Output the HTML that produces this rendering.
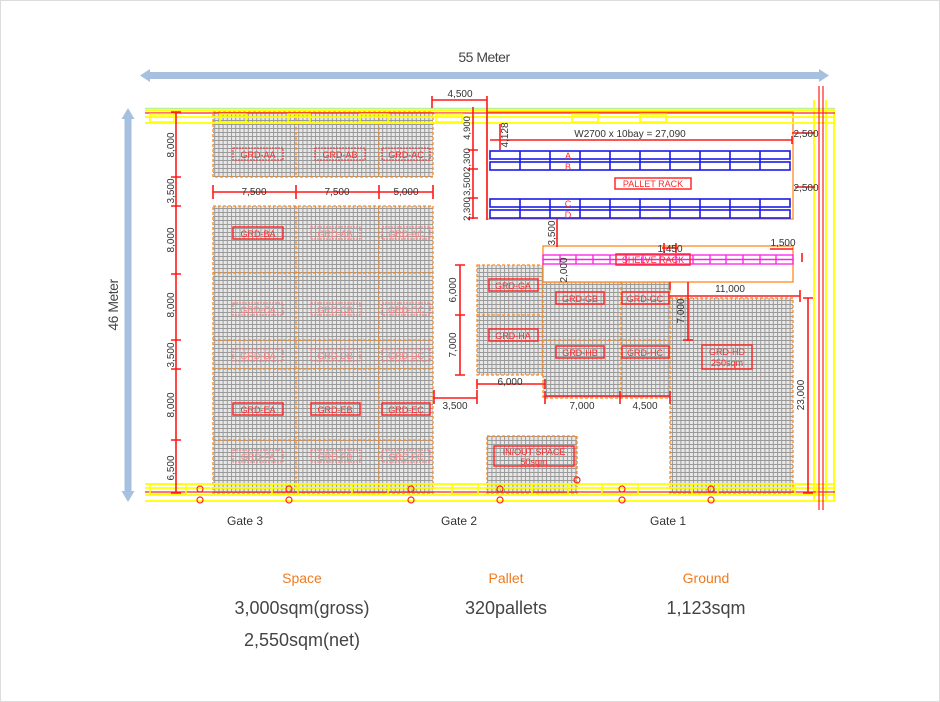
<!DOCTYPE html>
<html><head><meta charset="utf-8"><style>
html,body{margin:0;padding:0;background:#fff}
svg{display:block}
</style></head><body>
<svg width="940" height="702" viewBox="0 0 940 702" xmlns="http://www.w3.org/2000/svg" font-family="'Liberation Sans', sans-serif">
<defs>
<pattern id="g" width="4.2" height="4" patternUnits="userSpaceOnUse">
<rect width="4.2" height="4" fill="#e8e8e8"/>
<path d="M0 0.5H4.2M0.5 0V4" stroke="#9a9a9a" stroke-width="1"/>
</pattern>
</defs>
<rect x="0.5" y="0.5" width="939" height="701" fill="#fff" stroke="#dcdcdc"/>

<!-- blue arrows -->
<g fill="#a7c0e0">
<rect x="148" y="72" width="672" height="7"/>
<polygon points="140,75.5 150,69 150,82"/>
<polygon points="829,75.5 819,69 819,82"/>
<rect x="124.5" y="117" width="7" height="376"/>
<polygon points="128,108 121.5,119 134.5,119"/>
<polygon points="128,502 121.5,491 134.5,491"/>
</g>
<text x="484" y="62" font-size="14" fill="#444" text-anchor="middle" letter-spacing="-0.5">55 Meter</text>
<text transform="translate(118,305) rotate(-90)" font-size="14" fill="#444" text-anchor="middle" letter-spacing="-0.5">46 Meter</text>

<!-- grid blocks -->
<g fill="url(#g)" stroke="#ff8a1c" stroke-width="1.3" stroke-dasharray="3,2">
<rect x="213" y="112" width="220" height="65"/>
<rect x="213" y="206" width="220" height="287"/>
<rect x="477" y="265" width="66" height="110"/>
<rect x="543" y="282" width="127" height="116"/>
<rect x="670" y="298" width="123" height="195"/>
<rect x="487" y="436" width="90" height="57"/>
</g>
<g stroke="#ff8a1c" stroke-width="1.3" stroke-dasharray="3,2" fill="none">
<path d="M296 112V177M379 112V177M296 206V493M379 206V493M213 273H433M213 340H433M213 369H433M213 440H433M477 315H543M621 282V398M543 340H670"/>
</g>

<!-- racks area -->
<rect x="487" y="112" width="306" height="107" fill="#fff" stroke="#ff8a1c" stroke-width="1.3"/>
<rect x="543" y="246" width="250" height="36" fill="#fff" stroke="#ff8a1c" stroke-width="1.3"/>
<g stroke="#1a1ae6" stroke-width="1.6" fill="none">
<rect x="490" y="151" width="300" height="8"/><rect x="490" y="162" width="300" height="8"/>
<rect x="490" y="199" width="300" height="8"/><rect x="490" y="210" width="300" height="8"/>
<path d="M520 151V170M550 151V170M580 151V170M610 151V170M640 151V170M670 151V170M700 151V170M730 151V170M760 151V170M520 199V218M550 199V218M580 199V218M610 199V218M640 199V218M670 199V218M700 199V218M730 199V218M760 199V218"/>
</g>
<g stroke="#ff1ee6" stroke-width="1.3" fill="none">
<rect x="543" y="255" width="250" height="4.5"/><rect x="543" y="259.5" width="250" height="4.5"/>
<path d="M560 255V264M576 255V264M593 255V264M610 255V264M626 255V264M643 255V264M660 255V264M676 255V264M693 255V264M710 255V264M726 255V264M743 255V264M760 255V264M776 255V264"/>
</g>

<!-- walls -->
<path d="M145 108.5H835" stroke="#b8f0a0" stroke-width="1.5"/>
<g stroke="#ffff00" fill="none" stroke-width="1.8">
<path d="M145 110.5H835M145 117H835M145 123H835M145 484H835M145 488H835M145 495H835M145 501H835"/>
<path d="M814 100V500M826 100V500M834 110V500"/>
</g>
<g stroke="#ff2020" fill="none" stroke-width="1.2">
<path d="M145 113H835M145 492H835M819 86V510M823 86V510"/>
</g>
<g fill="none" stroke="#ffff00" stroke-width="1.5">
<rect x="150" y="114" width="24" height="8"/><rect x="220" y="114" width="26" height="8"/><rect x="288" y="114" width="22" height="8"/><rect x="360" y="114" width="28" height="8"/><rect x="436" y="114" width="26" height="8"/><rect x="572" y="114" width="26" height="8"/><rect x="640" y="114" width="26" height="8"/>
<rect x="150" y="484" width="36" height="10"/><rect x="272" y="484" width="26" height="10"/><rect x="352" y="484" width="36" height="10"/><rect x="452" y="484" width="26" height="10"/><rect x="532" y="484" width="36" height="10"/><rect x="602" y="484" width="36" height="10"/><rect x="692" y="484" width="26" height="10"/><rect x="795" y="484" width="22" height="10"/>
</g>
<g stroke="#ff2020" fill="none" stroke-width="1.2">
<circle cx="200" cy="500" r="3"/><circle cx="289" cy="500" r="3"/><circle cx="411" cy="500" r="3"/><circle cx="500" cy="500" r="3"/><circle cx="622" cy="500" r="3"/><circle cx="711" cy="500" r="3"/>
<circle cx="200" cy="489" r="3"/><circle cx="289" cy="489" r="3"/><circle cx="411" cy="489" r="3"/><circle cx="500" cy="489" r="3"/><circle cx="622" cy="489" r="3"/><circle cx="711" cy="489" r="3"/><circle cx="577" cy="480" r="3"/>
</g>

<!-- dimension lines -->
<g stroke="#ff1a1a" stroke-width="1.6" fill="none">
<path d="M176 112V493M171 112H181M171 177H181M171 206H181M171 274H181M171 340H181M171 369H181M171 440H181M171 493H181"/>
<path d="M213 192H433M213 185V199M296 185V199M379 185V199M433 185V199"/>
<path d="M432 100H487M432 96V108M487 96V220"/>
<path d="M473 107V219M468 150H478M468 169H478M468 198H478M468 218H478"/>
<path d="M500 124V150M490 140H792M792 136V144"/>
<path d="M792 133H815M795 187H815"/>
<path d="M557 219V247"/>
<path d="M662 248H678M664 243V253M676 243V253M770 249H793M802 253V262"/>
<path d="M460 265V375M455 265H465M455 315H465M455 375H465"/>
<path d="M688 282V341M670 282V290M683 340H693"/>
<path d="M670 296H800M800 290V302"/>
<path d="M808 298V493M803 298H813M803 493H813"/>
<path d="M477 384H545M477 379V389M545 379V389"/>
<path d="M434 398H477M434 390V404M477 390V404"/>
<path d="M545 396H670M545 391V404M620 391V404M670 391V404"/>
</g>

<!-- dimension text -->
<g font-size="10" fill="#333" text-anchor="middle">
<text x="254" y="195">7,500</text><text x="337" y="195">7,500</text><text x="406" y="195">5,000</text>
<text x="460" y="97">4,500</text>
<text x="630" y="137">W2700 x 10bay = 27,090</text>
<text x="806" y="137">2,500</text><text x="806" y="191">2,500</text>
<text x="670" y="252">1,450</text><text x="783" y="246">1,500</text>
<text x="730" y="292">11,000</text>
<text x="510" y="385">6,000</text><text x="455" y="409">3,500</text>
<text x="582" y="409">7,000</text><text x="645" y="409">4,500</text>
</g>
<g font-size="10" fill="#333" text-anchor="middle">
<text transform="translate(174,145) rotate(-90)">8,000</text>
<text transform="translate(174,191) rotate(-90)">3,500</text>
<text transform="translate(174,240) rotate(-90)">8,000</text>
<text transform="translate(174,305) rotate(-90)">8,000</text>
<text transform="translate(174,355) rotate(-90)">3,500</text>
<text transform="translate(174,405) rotate(-90)">8,000</text>
<text transform="translate(174,468) rotate(-90)">6,500</text>
<text transform="translate(470,128) rotate(-90)" font-size="9.5">4,900</text>
<text transform="translate(470,160) rotate(-90)" font-size="9.5">2,300</text>
<text transform="translate(470,184) rotate(-90)" font-size="9.5">3,500</text>
<text transform="translate(470,209) rotate(-90)" font-size="9.5">2,300</text>
<text transform="translate(508,135) rotate(-90)">4,128</text>
<text transform="translate(555,233) rotate(-90)">3,500</text>
<text transform="translate(567,270) rotate(-90)">2,000</text>
<text transform="translate(456,290) rotate(-90)">6,000</text>
<text transform="translate(456,345) rotate(-90)">7,000</text>
<text transform="translate(684,311) rotate(-90)">7,000</text>
<text transform="translate(804,395) rotate(-90)">23,000</text>
</g>

<!-- labels -->
<g font-size="9" fill="#ff2a2a" text-anchor="middle">
<rect x="233" y="148" width="50" height="12" fill="none" stroke="#ff2a2a" stroke-dasharray="2,1"/><text x="258" y="158">GRD-AA</text>
<rect x="315" y="148" width="50" height="12" fill="none" stroke="#ff2a2a" stroke-dasharray="2,1"/><text x="340" y="158">GRD-AB</text>
<rect x="382" y="148" width="48" height="12" fill="none" stroke="#ff2a2a" stroke-dasharray="2,1"/><text x="406" y="158">GRD-AC</text>
<rect x="233" y="227" width="50" height="12" fill="none" stroke="#ff2a2a" stroke-width="1.5"/><text x="258" y="237">GRD-BA</text>
<rect x="311" y="227" width="49" height="12" fill="none" stroke="#ff7070" stroke-dasharray="2,1"/><text x="335" y="237" fill="#ff8080">GRD-AB</text>
<rect x="382" y="227" width="48" height="12" fill="none" stroke="#ff7070" stroke-dasharray="2,1"/><text x="406" y="237" fill="#ff8080">GRD-AC</text>
<rect x="233" y="303" width="50" height="12" fill="none" stroke="#ff7070" stroke-dasharray="2,1"/><text x="258" y="313" fill="#ff8080">GRD-CA</text>
<rect x="311" y="303" width="49" height="12" fill="none" stroke="#ff7070" stroke-dasharray="2,1"/><text x="335" y="313" fill="#ff8080">GRD-CB</text>
<rect x="382" y="303" width="48" height="12" fill="none" stroke="#ff7070" stroke-dasharray="2,1"/><text x="406" y="313" fill="#ff8080">GRD-CC</text>
<rect x="233" y="349" width="50" height="12" fill="none" stroke="#ff7070" stroke-dasharray="2,1"/><text x="258" y="359" fill="#ff8080">GRD-DA</text>
<rect x="311" y="349" width="49" height="12" fill="none" stroke="#ff7070" stroke-dasharray="2,1"/><text x="335" y="359" fill="#ff8080">GRD-DB</text>
<rect x="382" y="349" width="48" height="12" fill="none" stroke="#ff7070" stroke-dasharray="2,1"/><text x="406" y="359" fill="#ff8080">GRD-DC</text>
<rect x="233" y="403" width="50" height="12" fill="none" stroke="#ff2a2a" stroke-width="1.5"/><text x="258" y="413">GRD-EA</text>
<rect x="311" y="403" width="49" height="12" fill="none" stroke="#ff2a2a" stroke-width="1.5"/><text x="335" y="413">GRD-EB</text>
<rect x="382" y="403" width="48" height="12" fill="none" stroke="#ff2a2a" stroke-width="1.5"/><text x="406" y="413">GRD-EC</text>
<rect x="233" y="450" width="50" height="12" fill="none" stroke="#ff7070" stroke-dasharray="2,1"/><text x="258" y="460" fill="#ff8080">GRD-FA</text>
<rect x="311" y="450" width="49" height="12" fill="none" stroke="#ff7070" stroke-dasharray="2,1"/><text x="335" y="460" fill="#ff8080">GRD-FB</text>
<rect x="382" y="450" width="48" height="12" fill="none" stroke="#ff7070" stroke-dasharray="2,1"/><text x="406" y="460" fill="#ff8080">GRD-FC</text>
<rect x="489" y="279" width="49" height="12" fill="none" stroke="#ff2a2a" stroke-width="1.5"/><text x="513" y="289">GRD-GA</text>
<rect x="489" y="329" width="49" height="12" fill="none" stroke="#ff2a2a" stroke-width="1.5"/><text x="513" y="339">GRD-HA</text>
<rect x="556" y="292" width="48" height="12" fill="none" stroke="#ff2a2a" stroke-width="1.5"/><text x="580" y="302">GRD-GB</text>
<rect x="622" y="292" width="47" height="12" fill="none" stroke="#ff2a2a" stroke-width="1.5"/><text x="645" y="302">GRD-GC</text>
<rect x="556" y="346" width="48" height="12" fill="none" stroke="#ff2a2a" stroke-width="1.5"/><text x="580" y="356">GRD-HB</text>
<rect x="622" y="346" width="47" height="12" fill="none" stroke="#ff2a2a" stroke-width="1.5"/><text x="645" y="356">GRD-HC</text>
<rect x="702" y="345" width="50" height="24" fill="none" stroke="#ff2a2a" stroke-width="1.5"/><text x="727" y="355">GRD-HD</text><text x="727" y="366">250sqm</text>
<rect x="494" y="446" width="80" height="20" fill="none" stroke="#ff2a2a" stroke-width="1.5"/><text x="534" y="455">IN/OUT SPACE</text><text x="534" y="465">50sqm</text>
<rect x="615" y="178" width="76" height="11" fill="#fff" stroke="#ff2a2a" stroke-width="1.5"/><text x="653" y="187">PALLET RACK</text>
<text x="568" y="159">A</text><text x="568" y="170">B</text><text x="568" y="207">C</text><text x="568" y="218">D</text>
<rect x="616" y="254" width="74" height="11" fill="none" stroke="#ff2a2a" stroke-width="1.5"/><text x="653" y="263">SHELVE RACK</text>
</g>

<!-- gates -->
<g font-size="12" fill="#333" text-anchor="middle">
<text x="245" y="525">Gate 3</text><text x="459" y="525">Gate 2</text><text x="668" y="525">Gate 1</text>
</g>
<g font-size="14" fill="#f07b1e" text-anchor="middle">
<text x="302" y="583">Space</text><text x="506" y="583">Pallet</text><text x="706" y="583">Ground</text>
</g>
<g font-size="18" fill="#444" text-anchor="middle">
<text x="302" y="614">3,000sqm(gross)</text><text x="302" y="646">2,550sqm(net)</text>
<text x="506" y="614">320pallets</text><text x="706" y="614">1,123sqm</text>
</g>
</svg>
</body></html>
